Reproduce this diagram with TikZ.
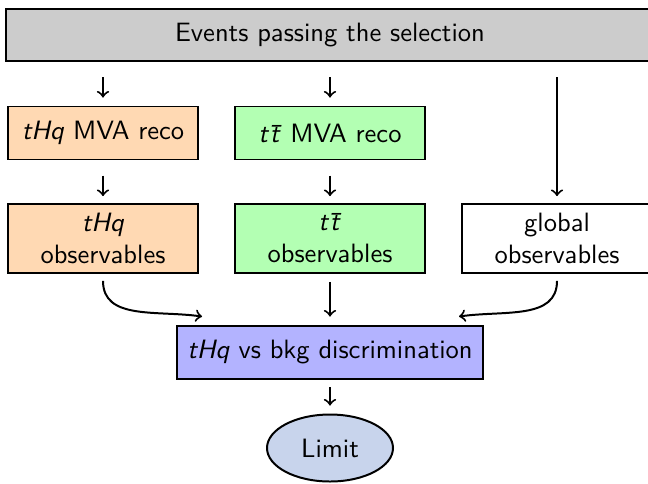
\documentclass[tikz,border=0pt]{standalone}
\usetikzlibrary{shapes.geometric,calc}
\definecolor{topgray}{HTML}{CCCCCC}
\definecolor{thqorange}{HTML}{FFD9B3}
\definecolor{ttgreen}{HTML}{B3FFB3}
\definecolor{discblue}{HTML}{B3B3FF}
\definecolor{limitblue}{HTML}{C8D4EC}
\begin{document}
\begin{tikzpicture}[x=0.377pt,y=0.377pt,
  font=\sffamily,
  boxbase/.style={draw, line width=0.75pt, inner sep=0pt, align=center},
  rowone/.style={boxbase, minimum width=190*0.377pt, minimum height=53*0.377pt},
  rowtwo/.style={boxbase, minimum width=190*0.377pt, minimum height=69*0.377pt},
  arr/.style={->, line width=0.75pt}]
\useasboundingbox (0,0) rectangle (648,-483);
\node[boxbase, fill=topgray, minimum width=648*0.377pt, minimum height=52*0.377pt] (top) at (330,-35) {Events passing the selection};
\node[rowone, fill=thqorange] (r1a) at (103,-133) {\textit{tHq} MVA reco};
\node[rowone, fill=ttgreen] (r1b) at (330,-133) {\textit{t\kern0.7pt\={t}} MVA reco};
\node[rowtwo, fill=thqorange] (r2a) at (103,-238.5) {\textit{tHq}\\observables};
\node[rowtwo, fill=ttgreen] (r2b) at (330,-238.5) {\textit{t\kern0.7pt\={t}}\\observables};
\node[rowtwo, fill=white] (r2c) at (557,-238.5) {global\\observables};
\node[boxbase, fill=discblue, minimum width=306*0.377pt, minimum height=53*0.377pt] (disc) at (330,-352) {\textit{tHq} vs bkg discrimination};
\node[ellipse, draw, line width=0.75pt, fill=limitblue, inner sep=0pt, minimum width=126*0.377pt, minimum height=67*0.377pt] (limit) at (330,-448) {Limit};
\coordinate (L) at ($(disc.north west)+(26,8)$);
\coordinate (R) at ($(disc.north east)+(-25,8)$);
\draw[arr, shorten <=5.7pt, shorten >=3pt] (top.south -| r1a.north) -- (r1a.north);
\draw[arr, shorten <=5.7pt, shorten >=3pt] (top.south -| r1b.north) -- (r1b.north);
\draw[arr, shorten <=5.7pt, shorten >=2.6pt] (top.south -| r2c.north) -- (r2c.north);
\draw[arr, shorten <=5.7pt, shorten >=2.6pt] (r1a.south) -- (r2a.north);
\draw[arr, shorten <=5.7pt, shorten >=2.6pt] (r1b.south) -- (r2b.north);
\draw[arr, shorten <=3pt, shorten >=3pt] (r2b.south) -- (r2b.south |- disc.north);
\draw[arr, shorten <=2.6pt] (r2a.south) to[out=-90, in=172, looseness=1.1] (L);
\draw[arr, shorten <=2.6pt] (r2c.south) to[out=-90, in=8, looseness=1.1] (R);
\draw[arr, shorten <=3pt, shorten >=3pt] (disc.south) -- (limit.north);
\end{tikzpicture}
\end{document}
